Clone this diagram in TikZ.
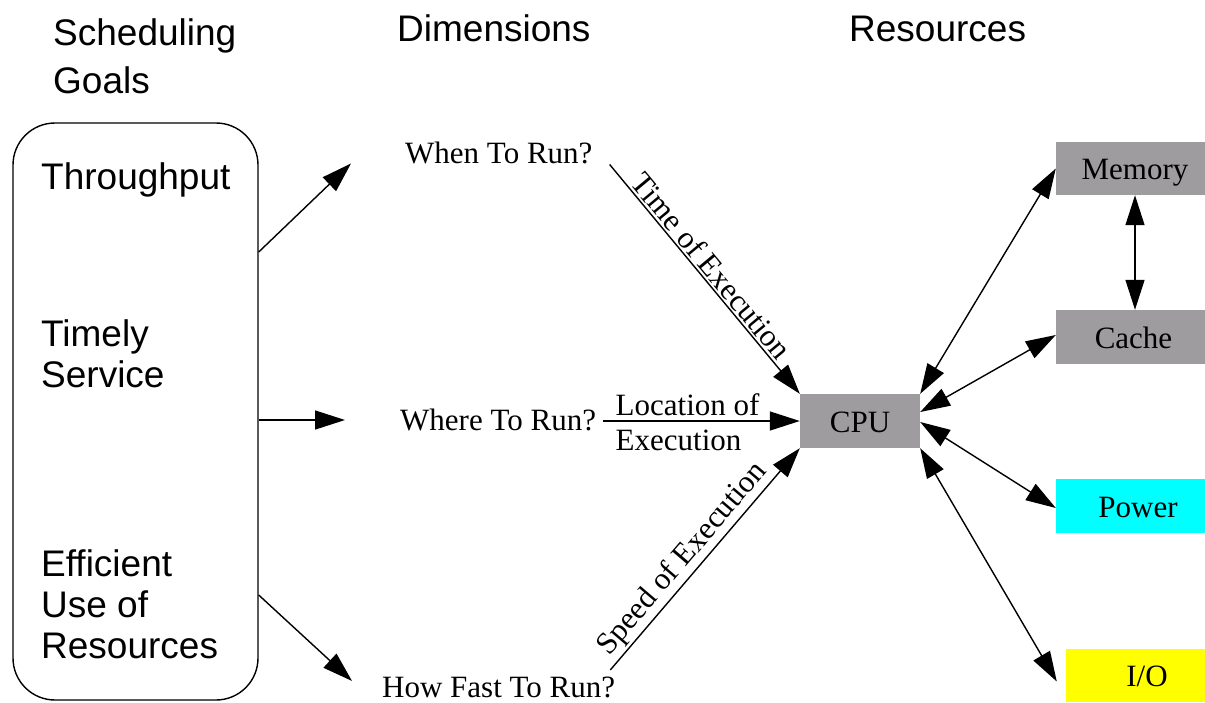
\documentclass[tikz,border=0pt]{standalone}
\usepackage{fontspec}
\setmainfont{Liberation Serif}
\newfontfamily\headsans{Liberation Sans}
\usetikzlibrary{arrows.meta,calc}
\definecolor{boxgray}{RGB}{158,156,158}
\definecolor{pwrcyan}{RGB}{0,255,255}
\definecolor{ioyellow}{RGB}{255,255,0}

\begin{document}
\begin{tikzpicture}[x=1pt,y=-1pt,
  sanslabel/.style={font=\headsans\fontsize{37}{42}\selectfont, inner sep=0pt, anchor=base west},
  question/.style={font=\fontsize{31}{36}\selectfont, inner sep=0pt, anchor=base west},
  edgelabel/.style={font=\fontsize{31}{36}\selectfont, inner sep=2pt},
  resbox/.style={fill=boxgray, minimum height=54pt, text height=22pt, text depth=0pt,
                 inner sep=0pt, font=\fontsize{31}{36}\selectfont},
  tip/.tip={Triangle[length=30pt,width=19pt]},
  conn/.style={line width=1.4pt, -tip},
  biconn/.style={line width=1.4pt, tip-tip},
]
\useasboundingbox (0,0) rectangle (1205,702);
\clip (0,0) rectangle (1205,702);

% column headings
\node[sanslabel] (hsched) at (53,45) {Scheduling};
\node[sanslabel] (hgoals) at (53,93) {Goals};
\node[sanslabel] (hdim)   at (397,41) {Dimensions};
\node[sanslabel] (hres)   at (849,41) {Resources};

% scheduling goals
\node[draw, line width=1.4pt, rounded corners=42pt, minimum width=245pt,
      minimum height=577pt, inner sep=0pt] (goals) at (135.5,411.5) {};
\node[sanslabel] (gthru)  at (41,189) {Throughput};
\node[sanslabel] (gtime1) at (41,346) {Timely};
\node[sanslabel] (gtime2) at (41,387) {Service};
\node[sanslabel] (geff1)  at (41,576) {Efficient};
\node[sanslabel] (geff2)  at (41,617) {Use of};
\node[sanslabel] (geff3)  at (41,658) {Resources};

% dimensions
\node[question] (when)  at (405,163) {When To Run?};
\node[question] (where) at (400,430) {Where To Run?};
\node[question] (fast)  at (382,697) {How Fast To Run?};

% resources
\node[resbox, minimum width=120pt] (cpu) at (860,421) {CPU};
\node[resbox, minimum width=158pt, minimum height=53pt] (mem) at (1135,168.5) {Memory};
\node[resbox, minimum width=155pt] (cache) at (1133.5,337) {Cache};
\node[resbox, fill=pwrcyan, minimum width=164pt] (power) at (1138,506) {Power};
\node[resbox, fill=ioyellow, minimum width=162pt, minimum height=53pt] (io) at (1147,675.5) {I/O};

% goals -> dimensions
\coordinate (gA) at ($(goals.east)+(0,-159.5)$);
\coordinate (gB) at ($(goals.east)+(0,8.5)$);
\coordinate (gC) at ($(goals.east)+(0,183.5)$);
\coordinate (whenin)  at ($(when.west)+(-54,11)$);
\coordinate (wherein) at ($(where.west)+(-55,0)$);
\coordinate (fastin)  at ($(fast.west)+(-30,-6)$);
\draw[conn] (gA) -- (whenin);
\draw[conn] (gB) -- (gB -| wherein);
\draw[conn] (gC) -- (fastin);

% dimensions -> CPU
\coordinate (whenout)  at ($(when.east)+(17,12)$);
\coordinate (whereout) at ($(where.east)+(7,0)$);
\coordinate (fastout)  at ($(fast.east)+(-5,-17)$);
\draw[conn] (whenout) -- (cpu.north west)
  node[edgelabel, sloped, above, pos=0.48] {Time of Execution};
\draw[conn] (whereout |- cpu.west) -- (cpu.west)
  node[edgelabel, pos=0.06, anchor=south west, inner sep=0pt, yshift=5pt] {Location of}
  node[edgelabel, pos=0.06, anchor=north west, inner sep=0pt, yshift=-8pt] {Execution};
\draw[conn] (fastout) -- (cpu.south west)
  node[edgelabel, sloped, above, pos=0.45] {Speed of Execution};

% CPU <-> other resources
\draw[biconn] (cpu.north east) -- ($(mem.west)+(0,0)$);
\draw[biconn] ($(cpu.east)+(0,-9)$) -- ($(cache.west)+(0,-2)$);
\draw[biconn] ($(cpu.east)+(0,1)$) -- ($(power.west)+(0,2)$);
\draw[biconn] (cpu.south east) -- ($(io.west)+(-9,6)$);
\draw[biconn] (mem.south) -- (mem.south |- cache.north);
\end{tikzpicture}
\end{document}
